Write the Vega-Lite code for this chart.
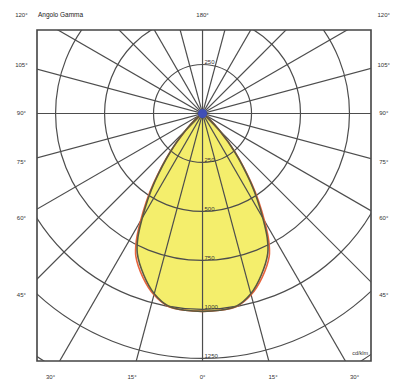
{
  "$schema": "https://vega.github.io/schema/vega-lite/v6.json",
  "width": 334,
  "height": 331,
  "autosize": "none",
  "padding": {"left": 37, "top": 30, "right": 22, "bottom": 19},
  "background": "white",
  "config": {"view": {"stroke": "#444444", "strokeWidth": 1.6}, "text": {"font": "Liberation Sans"}},
  "datasets": {
    "curves": [
      {"curve": "C0-C180", "i": 0, "x": 0, "y": 0},
      {"curve": "C0-C180", "i": 1, "x": -8.2, "y": -5.7},
      {"curve": "C0-C180", "i": 2, "x": -34.5, "y": -28.9},
      {"curve": "C0-C180", "i": 3, "x": -84.9, "y": -84.9},
      {"curve": "C0-C180", "i": 4, "x": -163.9, "y": -195.3},
      {"curve": "C0-C180", "i": 5, "x": -243.8, "y": -348.1},
      {"curve": "C0-C180", "i": 6, "x": -279.4, "y": -438.6},
      {"curve": "C0-C180", "i": 7, "x": -307.5, "y": -532.6},
      {"curve": "C0-C180", "i": 8, "x": -330.2, "y": -634.2},
      {"curve": "C0-C180", "i": 9, "x": -333.0, "y": -714.2},
      {"curve": "C0-C180", "i": 10, "x": -300.0, "y": -824.1},
      {"curve": "C0-C180", "i": 11, "x": -246.4, "y": -919.6},
      {"curve": "C0-C180", "i": 12, "x": -173.3, "y": -982.8},
      {"curve": "C0-C180", "i": 13, "x": -87.9, "y": -1004.2},
      {"curve": "C0-C180", "i": 14, "x": 0, "y": -1010},
      {"curve": "C0-C180", "i": 15, "x": 87.9, "y": -1004.2},
      {"curve": "C0-C180", "i": 16, "x": 173.3, "y": -982.8},
      {"curve": "C0-C180", "i": 17, "x": 246.4, "y": -919.6},
      {"curve": "C0-C180", "i": 18, "x": 300.0, "y": -824.1},
      {"curve": "C0-C180", "i": 19, "x": 333.0, "y": -714.2},
      {"curve": "C0-C180", "i": 20, "x": 330.2, "y": -634.2},
      {"curve": "C0-C180", "i": 21, "x": 307.5, "y": -532.6},
      {"curve": "C0-C180", "i": 22, "x": 279.4, "y": -438.6},
      {"curve": "C0-C180", "i": 23, "x": 243.8, "y": -348.1},
      {"curve": "C0-C180", "i": 24, "x": 163.9, "y": -195.3},
      {"curve": "C0-C180", "i": 25, "x": 84.9, "y": -84.9},
      {"curve": "C0-C180", "i": 26, "x": 34.5, "y": -28.9},
      {"curve": "C0-C180", "i": 27, "x": 8.2, "y": -5.7},
      {"curve": "C0-C180", "i": 28, "x": 0, "y": 0},
      {"curve": "C90-C270", "i": 0, "x": 0, "y": 0},
      {"curve": "C90-C270", "i": 1, "x": -8.2, "y": -5.7},
      {"curve": "C90-C270", "i": 2, "x": -36.0, "y": -30.2},
      {"curve": "C90-C270", "i": 3, "x": -87.7, "y": -87.7},
      {"curve": "C90-C270", "i": 4, "x": -168.4, "y": -200.7},
      {"curve": "C90-C270", "i": 5, "x": -251.2, "y": -358.8},
      {"curve": "C90-C270", "i": 6, "x": -287.5, "y": -451.2},
      {"curve": "C90-C270", "i": 7, "x": -316.0, "y": -547.3},
      {"curve": "C90-C270", "i": 8, "x": -338.0, "y": -649.3},
      {"curve": "C90-C270", "i": 9, "x": -340.2, "y": -729.6},
      {"curve": "C90-C270", "i": 10, "x": -304.4, "y": -836.3},
      {"curve": "C90-C270", "i": 11, "x": -247.9, "y": -925.4},
      {"curve": "C90-C270", "i": 12, "x": -173.7, "y": -984.8},
      {"curve": "C90-C270", "i": 13, "x": -87.9, "y": -1004.2},
      {"curve": "C90-C270", "i": 14, "x": 0, "y": -1010},
      {"curve": "C90-C270", "i": 15, "x": 87.9, "y": -1004.2},
      {"curve": "C90-C270", "i": 16, "x": 173.7, "y": -984.8},
      {"curve": "C90-C270", "i": 17, "x": 247.9, "y": -925.4},
      {"curve": "C90-C270", "i": 18, "x": 304.4, "y": -836.3},
      {"curve": "C90-C270", "i": 19, "x": 340.2, "y": -729.6},
      {"curve": "C90-C270", "i": 20, "x": 338.0, "y": -649.3},
      {"curve": "C90-C270", "i": 21, "x": 316.0, "y": -547.3},
      {"curve": "C90-C270", "i": 22, "x": 287.5, "y": -451.2},
      {"curve": "C90-C270", "i": 23, "x": 251.2, "y": -358.8},
      {"curve": "C90-C270", "i": 24, "x": 168.4, "y": -200.7},
      {"curve": "C90-C270", "i": 25, "x": 87.7, "y": -87.7},
      {"curve": "C90-C270", "i": 26, "x": 36.0, "y": -30.2},
      {"curve": "C90-C270", "i": 27, "x": 8.2, "y": -5.7},
      {"curve": "C90-C270", "i": 28, "x": 0, "y": 0}
    ],
    "rings": [
      {"r": 250}, {"r": 500}, {"r": 750}, {"r": 1000}, {"r": 1250}, {"r": 1500}
    ],
    "rays": [
      {"a": 0, "x": 0, "y": 2000, "x2": 0, "y2": -2000},
      {"a": 15, "x": -517.6, "y": 1931.9, "x2": 517.6, "y2": -1931.9},
      {"a": 30, "x": -1000, "y": 1732.1, "x2": 1000, "y2": -1732.1},
      {"a": 45, "x": -1414.2, "y": 1414.2, "x2": 1414.2, "y2": -1414.2},
      {"a": 60, "x": -1732.1, "y": 1000, "x2": 1732.1, "y2": -1000},
      {"a": 75, "x": -1931.9, "y": 517.6, "x2": 1931.9, "y2": -517.6},
      {"a": 90, "x": -2000, "y": 0, "x2": 2000, "y2": 0},
      {"a": 105, "x": -1931.9, "y": -517.6, "x2": 1931.9, "y2": 517.6},
      {"a": 120, "x": -1732.1, "y": -1000, "x2": 1732.1, "y2": 1000},
      {"a": 135, "x": -1414.2, "y": -1414.2, "x2": 1414.2, "y2": 1414.2},
      {"a": 150, "x": -1000, "y": -1732.1, "x2": 1000, "y2": 1732.1},
      {"a": 165, "x": -517.6, "y": -1931.9, "x2": 517.6, "y2": 1931.9}
    ],
    "ringLabels": [
      {"label": "250", "x": 0, "y": 250},
      {"label": "250", "x": 0, "y": -250},
      {"label": "500", "x": 0, "y": -500},
      {"label": "750", "x": 0, "y": -750},
      {"label": "1000", "x": 0, "y": -1000},
      {"label": "1250", "x": 0, "y": -1250}
    ],
    "angleLabels": [
      {"label": "120°", "x": -925, "y": 502},
      {"label": "180°", "x": 0, "y": 502},
      {"label": "120°", "x": 925, "y": 502},
      {"label": "105°", "x": -925, "y": 248},
      {"label": "105°", "x": 925, "y": 248},
      {"label": "90°", "x": -925, "y": 0},
      {"label": "90°", "x": 925, "y": 0},
      {"label": "75°", "x": -925, "y": -248},
      {"label": "75°", "x": 925, "y": -248},
      {"label": "60°", "x": -925, "y": -534},
      {"label": "60°", "x": 925, "y": -534},
      {"label": "45°", "x": -925, "y": -925},
      {"label": "45°", "x": 925, "y": -925},
      {"label": "30°", "x": -776, "y": -1345},
      {"label": "15°", "x": -360, "y": -1345},
      {"label": "0°", "x": 0, "y": -1345},
      {"label": "15°", "x": 360, "y": -1345},
      {"label": "30°", "x": 776, "y": -1345}
    ],
    "notes": [
      {"label": "Angolo Gamma", "x": -840, "y": 502, "pos": "title"},
      {"label": "cd/klm", "x": 845, "y": -1240, "pos": "unit"}
    ]
  },
  "layer": [
    {
      "data": {"name": "curves"},
      "transform": [{"filter": "datum.curve === 'C0-C180'"}],
      "mark": {"type": "line", "fill": "#f4ee6c", "stroke": null, "clip": true, "interpolate": "catmull-rom"},
      "encoding": {
        "x": {"field": "x", "type": "quantitative", "scale": {"domain": [-845, 860], "nice": false, "zero": false}, "axis": null},
        "y": {"field": "y", "type": "quantitative", "scale": {"domain": [-1263, 426], "nice": false, "zero": false}, "axis": null},
        "order": {"field": "i", "type": "quantitative"}
      }
    },
    {
      "data": {"name": "rings"},
      "mark": {"type": "arc", "theta": 0, "theta2": 6.2832, "filled": false, "fill": null, "stroke": "#4d4d4d", "strokeWidth": 1.2, "clip": true},
      "encoding": {
        "x": {"datum": 0, "type": "quantitative"},
        "y": {"datum": 0, "type": "quantitative"},
        "radius": {"field": "r", "type": "quantitative", "stack": null, "scale": {"type": "linear", "domain": [0, 1500], "range": [0, 293.9], "zero": true}, "legend": null}
      }
    },
    {
      "data": {"name": "rays"},
      "mark": {"type": "rule", "stroke": "#4d4d4d", "strokeWidth": 1.2, "clip": true},
      "encoding": {
        "x": {"field": "x", "type": "quantitative"},
        "y": {"field": "y", "type": "quantitative"},
        "x2": {"field": "x2"},
        "y2": {"field": "y2"}
      }
    },
    {
      "data": {"name": "curves"},
      "transform": [{"filter": "datum.curve === 'C90-C270'"}],
      "mark": {"type": "line", "stroke": "#e8643c", "strokeWidth": 1.6, "clip": true, "interpolate": "catmull-rom"},
      "encoding": {
        "x": {"field": "x", "type": "quantitative"},
        "y": {"field": "y", "type": "quantitative"},
        "order": {"field": "i", "type": "quantitative"}
      }
    },
    {
      "data": {"name": "curves"},
      "transform": [{"filter": "datum.curve === 'C0-C180'"}],
      "mark": {"type": "line", "stroke": "#5a5a40", "strokeWidth": 1.6, "clip": true, "interpolate": "catmull-rom"},
      "encoding": {
        "x": {"field": "x", "type": "quantitative"},
        "y": {"field": "y", "type": "quantitative"},
        "order": {"field": "i", "type": "quantitative"}
      }
    },
    {
      "data": {"values": [{"x": 0, "y": 0}]},
      "mark": {"type": "point", "shape": "circle", "filled": true, "color": "#3d4fc4", "size": 80, "opacity": 0.9},
      "encoding": {
        "x": {"field": "x", "type": "quantitative"},
        "y": {"field": "y", "type": "quantitative"}
      }
    },
    {
      "data": {"name": "ringLabels"},
      "mark": {"type": "text", "fontSize": 6, "color": "#333333", "align": "left", "baseline": "bottom", "dx": 2, "dy": 1},
      "encoding": {
        "x": {"field": "x", "type": "quantitative"},
        "y": {"field": "y", "type": "quantitative"},
        "text": {"field": "label"}
      }
    },
    {
      "data": {"name": "angleLabels"},
      "mark": {"type": "text", "fontSize": 6, "color": "#333333", "align": "center", "baseline": "middle"},
      "encoding": {
        "x": {"field": "x", "type": "quantitative"},
        "y": {"field": "y", "type": "quantitative"},
        "text": {"field": "label"}
      }
    },
    {
      "data": {"name": "notes"},
      "transform": [{"filter": "datum.pos === 'title'"}],
      "mark": {"type": "text", "fontSize": 6.5, "color": "#222222", "align": "left", "baseline": "middle"},
      "encoding": {
        "x": {"field": "x", "type": "quantitative"},
        "y": {"field": "y", "type": "quantitative"},
        "text": {"field": "label"}
      }
    },
    {
      "data": {"name": "notes"},
      "transform": [{"filter": "datum.pos === 'unit'"}],
      "mark": {"type": "text", "fontSize": 5.5, "color": "#333333", "align": "right", "baseline": "bottom"},
      "encoding": {
        "x": {"field": "x", "type": "quantitative"},
        "y": {"field": "y", "type": "quantitative"},
        "text": {"field": "label"}
      }
    }
  ]
}
